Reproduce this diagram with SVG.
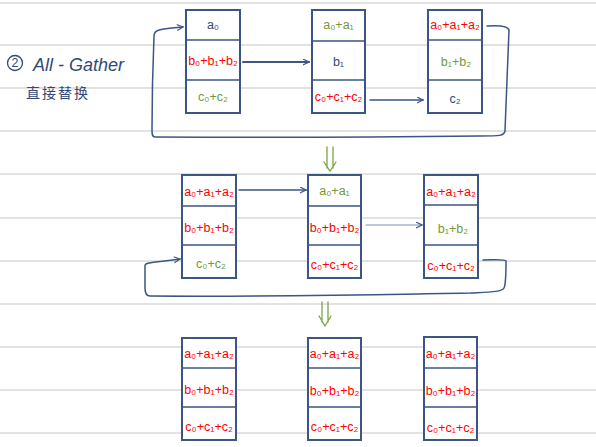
<svg xmlns="http://www.w3.org/2000/svg" width="596" height="447" viewBox="0 0 596 447">
<defs>
<style>
.rule{stroke:#d9d9d9;stroke-width:1.5;fill:none}
.box{fill:#fff;stroke:#3b5585;stroke-width:2}
.div{stroke:#3b5585;stroke-width:1.5}
.t{font-family:"Liberation Sans","DejaVu Sans",sans-serif;font-size:12.5px;text-anchor:middle;dominant-baseline:central}
.r{fill:#f00}
.g{fill:#6f9a3a}
.n{fill:#2f4a7a}
.con{fill:none;stroke:#3b5585;stroke-width:1.5;stroke-linecap:round;stroke-linejoin:round}
.thick{stroke-width:2}
.light{stroke:#7d8fb0;stroke-width:1}
.dn{fill:none;stroke:#7aa645;stroke-width:1.3;stroke-linecap:round}
</style>
<marker id="ah" viewBox="0 0 10 10" refX="9" refY="5" markerWidth="7" markerHeight="7" markerUnits="userSpaceOnUse" orient="auto">
<path d="M1,1 L9,5 L1,9" fill="none" stroke="#3b5585" stroke-width="1.6" stroke-linecap="round"/>
</marker>
</defs>
<rect width="596" height="447" fill="#fff"/>
<g id="rules">
<path class="rule" d="M0,3H596M0,45H596M0,88H596M0,131H596M0,174H596M0,218H596M0,261H596M0,304H596M0,347H596M0,390H596M0,433H596"/>
</g>
<g id="title">
<circle cx="15" cy="63" r="7.5" fill="none" stroke="#2f4a7a" stroke-width="1.3"/>
<text x="15" y="63" class="t n" font-size="10">2</text>
<text x="33" y="71" font-family="Liberation Sans, sans-serif" font-size="18" fill="#2f4a7a" font-style="italic">All - Gather</text>
<text x="26" y="98" font-family="Noto Sans CJK SC, sans-serif" font-size="14" letter-spacing="2" fill="#2f4a7a">直接替换</text>
</g>
<g id="connectors">
<path class="con" d="M487,26 C500,25 508,26 509,30 C508,60 506,100 505,131 C504,136 500,136 480,136 C400,137 300,138 155,137 C152,137 152,134 152,130 C152,100 153,60 154,36 C154,30 158,29 183,27" marker-end="url(#ah)"/>
<path class="con thick" d="M243,62 L309,62" marker-end="url(#ah)"/>
<path class="con" d="M370,100 L423,100" marker-end="url(#ah)"/>
<path class="con" d="M239,190 L306,190" marker-end="url(#ah)"/>
<path class="con light" d="M366,225 L422,225" marker-end="url(#ah)"/>
<path class="con" d="M483,260 C495,260 505,259 506,261 C506,275 506,284 504,288 C502,292 490,292 470,293 C400,294 300,297 150,296 C146,296 145,292 145,288 L145,266 C145,262 150,263 180,259" marker-end="url(#ah)"/>
<g id="step1">
<path class="dn" d="M327,147 L327,168 M333,147 L333,168 M324,162 L330,171 L336,162"/>
</g>
<g id="step2">
<path class="dn" d="M322,302 L322,322 M328,302 L328,322 M319,316 L325,326 L331,316"/>
</g>
</g>
<g id="top1">
<rect class="box" x="186" y="10" width="54" height="103"/>
<path class="div" d="M186,40H240M186,80H240"/>
<text class="t n" x="213" y="25">a₀</text>
<text class="t r" x="213" y="61">b₀+b₁+b₂</text>
<text class="t g" x="213" y="97">c₀+c₂</text>
</g>
<g id="top2">
<rect class="box" x="312" y="10" width="53" height="103"/>
<path class="div" d="M312,41H365M312,80H365"/>
<text class="t g" x="338.5" y="25">a₀+a₁</text>
<text class="t n" x="338.5" y="62">b₁</text>
<text class="t r" x="338.5" y="97">c₀+c₁+c₂</text>
</g>
<g id="top3">
<rect class="box" x="428" y="10" width="54" height="103"/>
<path class="div" d="M428,40H482M428,80H482"/>
<text class="t r" x="455" y="25">a₀+a₁+a₂</text>
<text class="t g" x="456" y="62">b₁+b₂</text>
<text class="t n" x="455" y="99">c₂</text>
</g>
<g id="mid1">
<rect class="box" x="182" y="175" width="54" height="103"/>
<path class="div" d="M182,206H236M182,245H236"/>
<text class="t r" x="209" y="192">a₀+a₁+a₂</text>
<text class="t r" x="209" y="228">b₀+b₁+b₂</text>
<text class="t g" x="211" y="264">c₀+c₂</text>
</g>
<g id="mid2">
<rect class="box" x="308" y="175" width="53" height="103"/>
<path class="div" d="M308,206H361M308,245H361"/>
<text class="t g" x="334.5" y="191">a₀+a₁</text>
<text class="t r" x="334.5" y="228">b₀+b₁+b₂</text>
<text class="t r" x="334.5" y="265">c₀+c₁+c₂</text>
</g>
<g id="mid3">
<rect class="box" x="424" y="175" width="54" height="103"/>
<path class="div" d="M424,205H478M424,245H478"/>
<text class="t r" x="451" y="192">a₀+a₁+a₂</text>
<text class="t g" x="453" y="229">b₁+b₂</text>
<text class="t r" x="451" y="266">c₀+c₁+c₂</text>
</g>
<g id="bot1">
<rect class="box" x="182" y="338" width="54" height="102"/>
<path class="div" d="M182,368H236M182,407H236"/>
<text class="t r" x="209" y="354">a₀+a₁+a₂</text>
<text class="t r" x="209" y="390">b₀+b₁+b₂</text>
<text class="t r" x="209" y="427">c₀+c₁+c₂</text>
</g>
<g id="bot2">
<rect class="box" x="308" y="338" width="53" height="102"/>
<path class="div" d="M308,368H361M308,407H361"/>
<text class="t r" x="334.5" y="354">a₀+a₁+a₂</text>
<text class="t r" x="334.5" y="391">b₀+b₁+b₂</text>
<text class="t r" x="334.5" y="427">c₀+c₁+c₂</text>
</g>
<g id="bot3">
<rect class="box" x="424" y="337" width="53" height="103"/>
<path class="div" d="M424,368H477M424,407H477"/>
<text class="t r" x="450.5" y="354">a₀+a₁+a₂</text>
<text class="t r" x="450.5" y="391">b₀+b₁+b₂</text>
<text class="t r" x="450.5" y="428">c₀+c₁+c₂</text>
</g>
</svg>
